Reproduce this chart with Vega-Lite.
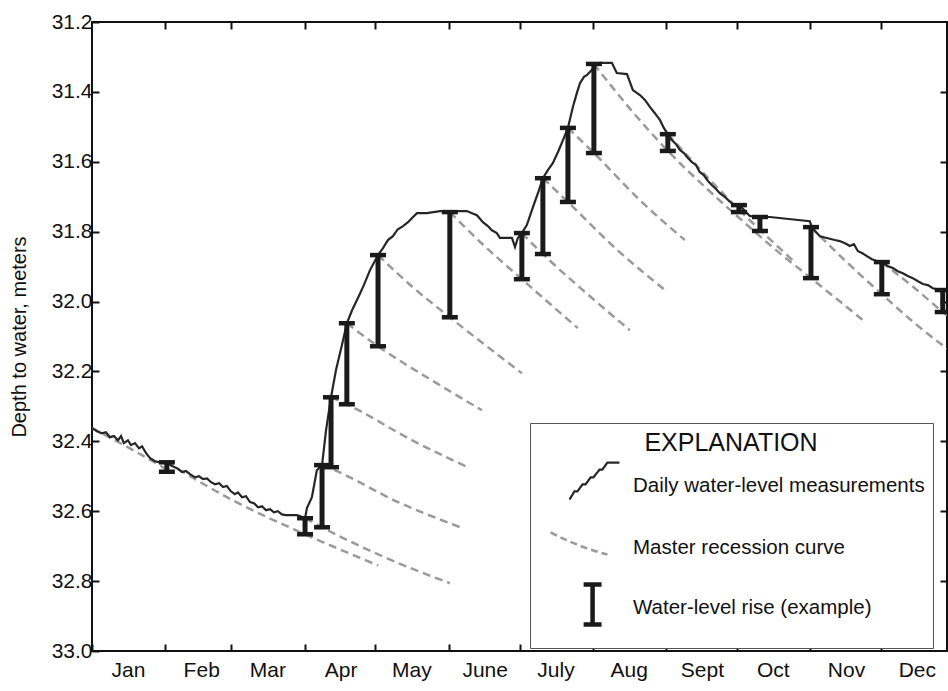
{
  "$schema": "https://vega.github.io/schema/vega-lite/v6.json",
  "width": 855,
  "height": 629,
  "autosize": {"type": "none"},
  "padding": {"left": 92, "top": 22, "right": 1, "bottom": 40},
  "background": "white",
  "config": {
    "font": "Liberation Sans",
    "view": {"stroke": "#111111", "strokeWidth": 2},
    "axis": {"labelColor": "#111111", "titleColor": "#111111", "tickColor": "#111111", "tickWidth": 2, "grid": false, "domain": false},
    "legend": {
      "orient": "none", "legendX": 438, "legendY": 401,
      "titleFontSize": 25, "titleFontWeight": "normal", "titleColor": "#111111",
      "titleAnchor": "middle", "titlePadding": 0,
      "labelFontSize": 20.5, "labelColor": "#111111", "labelLimit": 0, "labelOffset": 34,
      "symbolSize": 3136, "rowPadding": 0, "padding": 8,
      "strokeColor": "#555555", "fillColor": "white"
    }
  },
  "datasets": {
    "daily": [
      {"d":0,"v":32.362},{"d":2.1,"v":32.371},{"d":4.2,"v":32.377},{"d":5.9,"v":32.374},{"d":7.6,"v":32.388},{"d":9.3,"v":32.385},{"d":11.0,"v":32.397},{"d":12.3,"v":32.385},{"d":13.5,"v":32.405},{"d":15.2,"v":32.397},{"d":16.5,"v":32.411},{"d":18.2,"v":32.405},{"d":19.9,"v":32.420},{"d":21.2,"v":32.414},{"d":22.9,"v":32.434},{"d":24.6,"v":32.448},{"d":26.7,"v":32.457},{"d":28.8,"v":32.460},{"d":31.7,"v":32.460},{"d":33.9,"v":32.471},{"d":36.0,"v":32.477},{"d":38.1,"v":32.488},{"d":39.8,"v":32.485},{"d":41.5,"v":32.494},{"d":43.6,"v":32.503},{"d":45.3,"v":32.500},{"d":47.0,"v":32.508},{"d":48.7,"v":32.506},{"d":50.4,"v":32.517},{"d":52.1,"v":32.523},{"d":53.8,"v":32.520},{"d":55.5,"v":32.531},{"d":57.1,"v":32.528},{"d":58.8,"v":32.543},{"d":60.5,"v":32.551},{"d":61.8,"v":32.546},{"d":63.5,"v":32.560},{"d":65.2,"v":32.557},{"d":66.9,"v":32.574},{"d":68.6,"v":32.577},{"d":70.3,"v":32.589},{"d":72.0,"v":32.586},{"d":73.7,"v":32.597},{"d":75.4,"v":32.594},{"d":77.0,"v":32.603},{"d":78.7,"v":32.600},{"d":80.4,"v":32.609},{"d":82.1,"v":32.611},{"d":86.8,"v":32.611},{"d":89.3,"v":32.617},{"d":90.2,"v":32.620},{"d":91.0,"v":32.591},{"d":93.1,"v":32.560},{"d":95.2,"v":32.483},{"d":97.4,"v":32.468},{"d":99.1,"v":32.368},{"d":101.2,"v":32.274},{"d":103.3,"v":32.196},{"d":105.8,"v":32.125},{"d":107.9,"v":32.062},{"d":110.1,"v":32.025},{"d":112.6,"v":31.990},{"d":115.1,"v":31.953},{"d":117.7,"v":31.910},{"d":121.1,"v":31.867},{"d":123.2,"v":31.847},{"d":125.3,"v":31.824},{"d":127.4,"v":31.813},{"d":129.5,"v":31.793},{"d":131.7,"v":31.784},{"d":133.8,"v":31.773},{"d":135.5,"v":31.761},{"d":137.6,"v":31.747},{"d":141.8,"v":31.747},{"d":147.3,"v":31.741},{"d":158.7,"v":31.741},{"d":160.9,"v":31.747},{"d":163.0,"v":31.753},{"d":165.5,"v":31.773},{"d":167.6,"v":31.784},{"d":169.3,"v":31.796},{"d":171.4,"v":31.804},{"d":172.7,"v":31.818},{"d":177.8,"v":31.818},{"d":179.1,"v":31.844},{"d":180.3,"v":31.818},{"d":182.0,"v":31.804},{"d":184.1,"v":31.781},{"d":186.7,"v":31.730},{"d":188.8,"v":31.690},{"d":190.9,"v":31.647},{"d":193.0,"v":31.624},{"d":195.1,"v":31.604},{"d":197.3,"v":31.572},{"d":199.4,"v":31.538},{"d":201.5,"v":31.503},{"d":203.6,"v":31.443},{"d":205.3,"v":31.403},{"d":206.6,"v":31.375},{"d":208.3,"v":31.357},{"d":209.5,"v":31.352},{"d":211.7,"v":31.337},{"d":212.9,"v":31.323},{"d":215.0,"v":31.317},{"d":220.1,"v":31.317},{"d":222.2,"v":31.346},{"d":226.5,"v":31.349},{"d":229.0,"v":31.395},{"d":232.0,"v":31.409},{"d":234.1,"v":31.423},{"d":236.2,"v":31.443},{"d":238.3,"v":31.461},{"d":240.5,"v":31.481},{"d":242.1,"v":31.503},{"d":243.8,"v":31.521},{"d":245.5,"v":31.538},{"d":247.2,"v":31.549},{"d":248.9,"v":31.566},{"d":250.6,"v":31.575},{"d":252.3,"v":31.589},{"d":254.0,"v":31.601},{"d":255.7,"v":31.609},{"d":257.3,"v":31.629},{"d":259.0,"v":31.638},{"d":260.8,"v":31.655},{"d":262.5,"v":31.667},{"d":264.2,"v":31.678},{"d":265.8,"v":31.690},{"d":268.0,"v":31.701},{"d":269.7,"v":31.712},{"d":271.3,"v":31.721},{"d":273.9,"v":31.724},{"d":275.2,"v":31.732},{"d":276.9,"v":31.744},{"d":278.5,"v":31.755},{"d":281.1,"v":31.758},{"d":282.8,"v":31.758},{"d":287.0,"v":31.758},{"d":303.9,"v":31.770},{"d":304.8,"v":31.787},{"d":306.5,"v":31.801},{"d":308.2,"v":31.813},{"d":311.1,"v":31.818},{"d":314.5,"v":31.824},{"d":316.6,"v":31.827},{"d":318.8,"v":31.833},{"d":320.9,"v":31.841},{"d":322.6,"v":31.836},{"d":324.3,"v":31.856},{"d":326.0,"v":31.861},{"d":328.1,"v":31.870},{"d":330.2,"v":31.879},{"d":332.3,"v":31.884},{"d":334.4,"v":31.887},{"d":337.0,"v":31.899},{"d":339.1,"v":31.904},{"d":341.2,"v":31.913},{"d":343.3,"v":31.919},{"d":345.4,"v":31.927},{"d":347.5,"v":31.933},{"d":349.7,"v":31.942},{"d":351.8,"v":31.950},{"d":353.9,"v":31.953},{"d":356.0,"v":31.962},{"d":359.0,"v":31.967},{"d":361.9,"v":31.967}
    ],
    "rec": [
      {"c":"C0","d":0,"v":32.362},{"c":"C0","d":16,"v":32.42},{"c":"C0","d":34,"v":32.49},
      {"c":"C1","d":31.7,"v":32.460},{"c":"C1","d":60,"v":32.570},{"c":"C1","d":90.2,"v":32.666},{"c":"C1","d":121.1,"v":32.755},
      {"c":"C2","d":90.2,"v":32.620},{"c":"C2","d":97.4,"v":32.646},{"c":"C2","d":125,"v":32.735},{"c":"C2","d":151.5,"v":32.806},
      {"c":"C3","d":97.4,"v":32.468},{"c":"C3","d":101.2,"v":32.478},{"c":"C3","d":130,"v":32.575},{"c":"C3","d":157.1,"v":32.649},
      {"c":"C4","d":101.2,"v":32.274},{"c":"C4","d":107.9,"v":32.294},{"c":"C4","d":135,"v":32.395},{"c":"C4","d":160.0,"v":32.477},
      {"c":"C5","d":107.9,"v":32.062},{"c":"C5","d":121.1,"v":32.128},{"c":"C5","d":145,"v":32.230},{"c":"C5","d":165.1,"v":32.311},
      {"c":"C6","d":121.1,"v":31.867},{"c":"C6","d":136,"v":31.960},{"c":"C6","d":151.5,"v":32.045},{"c":"C6","d":182.0,"v":32.205},
      {"c":"C7","d":151.5,"v":31.744},{"c":"C7","d":166,"v":31.840},{"c":"C7","d":182.0,"v":31.936},{"c":"C7","d":205.7,"v":32.076},
      {"c":"C8","d":182.0,"v":31.804},{"c":"C8","d":190.9,"v":31.864},{"c":"C8","d":210,"v":31.980},{"c":"C8","d":227.7,"v":32.082},
      {"c":"C9","d":190.9,"v":31.647},{"c":"C9","d":201.5,"v":31.715},{"c":"C9","d":222,"v":31.850},{"c":"C9","d":242.6,"v":31.967},
      {"c":"C10","d":201.5,"v":31.503},{"c":"C10","d":212.5,"v":31.575},{"c":"C10","d":232,"v":31.710},{"c":"C10","d":251.0,"v":31.824},
      {"c":"C11","d":212.5,"v":31.320},{"c":"C11","d":228,"v":31.450},{"c":"C11","d":243.8,"v":31.569},{"c":"C11","d":260,"v":31.675},{"c":"C11","d":273.9,"v":31.760},{"c":"C11","d":290,"v":31.855},{"c":"C11","d":304.4,"v":31.933},{"c":"C11","d":326.4,"v":32.053},
      {"c":"C12","d":243.8,"v":31.521},{"c":"C12","d":260,"v":31.640},{"c":"C12","d":273.9,"v":31.737},{"c":"C12","d":282.8,"v":31.795},{"c":"C12","d":298,"v":31.890},
      {"c":"C14","d":304.4,"v":31.787},{"c":"C14","d":320,"v":31.890},{"c":"C14","d":334.4,"v":31.979},{"c":"C14","d":348,"v":32.060},{"c":"C14","d":362,"v":32.135},
      {"c":"C15","d":334.4,"v":31.887},{"c":"C15","d":348,"v":31.960},{"c":"C15","d":360.2,"v":32.030},{"c":"C15","d":362,"v":32.040}
    ],
    "rise": [
      {"d":31.7,"top":32.460,"bot":32.487},
      {"d":90.2,"top":32.620,"bot":32.666},
      {"d":97.4,"top":32.468,"bot":32.646},
      {"d":101.2,"top":32.274,"bot":32.474},
      {"d":107.9,"top":32.062,"bot":32.294},
      {"d":121.1,"top":31.867,"bot":32.128},
      {"d":151.5,"top":31.744,"bot":32.045},
      {"d":182.0,"top":31.804,"bot":31.936},
      {"d":190.9,"top":31.647,"bot":31.864},
      {"d":201.5,"top":31.503,"bot":31.715},
      {"d":212.5,"top":31.320,"bot":31.575},
      {"d":243.8,"top":31.521,"bot":31.569},
      {"d":273.9,"top":31.724,"bot":31.744},
      {"d":282.8,"top":31.758,"bot":31.798},
      {"d":304.4,"top":31.787,"bot":31.933},
      {"d":334.4,"top":31.887,"bot":31.979},
      {"d":360.2,"top":31.967,"bot":32.030}
    ],
    "legend": [
      {"kind":"Daily water-level measurements"},
      {"kind":"Master recession curve"},
      {"kind":"Water-level rise (example)"}
    ]
  },
  "resolve": {"axis": {"x": "independent", "y": "independent"}},
  "layer": [
    {
      "data": {"name": "rec"},
      "mark": {"type": "line", "color": "#9a9a9a", "strokeWidth": 2.5, "strokeDash": [8, 5], "interpolate": "monotone", "clip": true},
      "encoding": {
        "x": {"field": "d", "type": "quantitative", "scale": {"domain": [0, 362], "nice": false, "zero": false},
              "axis": {"orient": "top", "values": [31,59,90,120,151,181,212,243,273,304,334], "tickSize": -7, "labels": false, "title": null}},
        "y": {"field": "v", "type": "quantitative", "scale": {"domain": [31.2, 33.0], "reverse": true, "nice": false, "zero": false},
              "axis": {"orient": "right", "values": [31.4,31.6,31.8,32.0,32.2,32.4,32.6,32.8], "tickSize": -7, "labels": false, "title": null}},
        "detail": {"field": "c", "type": "nominal"}
      }
    },
    {
      "data": {"name": "daily"},
      "mark": {"type": "line", "color": "#262626", "strokeWidth": 2.2, "clip": true},
      "encoding": {
        "x": {"field": "d", "type": "quantitative", "scale": {"domain": [0, 362], "nice": false, "zero": false},
              "axis": {"orient": "bottom", "values": [0,31,59,90,120,151,181,212,243,273,304,334], "tickSize": -7,
                       "labelExpr": "['Jan','Feb','Mar','Apr','May','June','July','Aug','Sept','Oct','Nov','Dec'][indexof([0,31,59,90,120,151,181,212,243,273,304,334], datum.value)]",
                       "labelOffset": 36, "labelPadding": 15, "labelFontSize": 21, "labelOverlap": false, "labelFlush": false, "labelBound": false, "title": null}},
        "y": {"field": "v", "type": "quantitative", "scale": {"domain": [31.2, 33.0], "reverse": true, "nice": false, "zero": false},
              "axis": {"orient": "left", "values": [31.2,31.4,31.6,31.8,32.0,32.2,32.4,32.6,32.8,33.0], "format": ".1f", "tickSize": -7,
                       "labelPadding": 7, "labelFontSize": 21, "labelOverlap": false, "labelFlush": false, "labelBound": false,
                       "title": "Depth to water, meters", "titleFontSize": 20, "titleFontWeight": "normal", "titleX": -63}}
      }
    },
    {
      "data": {"name": "rise"},
      "mark": {"type": "rule", "color": "#1a1a1a", "strokeWidth": 5},
      "encoding": {
        "x": {"field": "d", "type": "quantitative", "axis": null},
        "y": {"field": "top", "type": "quantitative", "axis": null},
        "y2": {"field": "bot"}
      }
    },
    {
      "data": {"name": "rise"},
      "mark": {"type": "tick", "orient": "horizontal", "color": "#1a1a1a", "size": 16, "thickness": 4.5, "opacity": 1},
      "encoding": {
        "x": {"field": "d", "type": "quantitative", "axis": null},
        "y": {"field": "top", "type": "quantitative", "axis": null}
      }
    },
    {
      "data": {"name": "rise"},
      "mark": {"type": "tick", "orient": "horizontal", "color": "#1a1a1a", "size": 16, "thickness": 4.5, "opacity": 1},
      "encoding": {
        "x": {"field": "d", "type": "quantitative", "axis": null},
        "y": {"field": "bot", "type": "quantitative", "axis": null}
      }
    },
    {
      "data": {"name": "legend"},
      "mark": {"type": "point", "opacity": 1, "filled": false},
      "encoding": {
        "x": {"field": "d", "type": "quantitative", "axis": null},
        "y": {"field": "v", "type": "quantitative", "axis": null},
        "shape": {
          "field": "kind", "type": "nominal", "title": "EXPLANATION",
          "scale": {
            "domain": ["Daily water-level measurements", "Master recession curve", "Water-level rise (example)"],
            "range": [
              "M0,-1.0M0,1.0M0.04,0.5L0.21,0.21L0.32,0.21L0.5,-0.04L0.61,-0.04L0.79,-0.29L0.89,-0.29L1.11,-0.57L1.21,-0.57L1.39,-0.82L1.82,-0.82",
              "M0,-0.79M0,0.79M-0.64,-0.54Q0.4,0 1.39,0.25",
              "M0,-0.82M0,0.82M0.54,-0.82H1.18M0.86,-0.82V0.61M0.54,0.61H1.18"
            ]
          }
        },
        "stroke": {
          "field": "kind", "type": "nominal", "title": "EXPLANATION",
          "scale": {
            "domain": ["Daily water-level measurements", "Master recession curve", "Water-level rise (example)"],
            "range": ["#262626", "#9a9a9a", "#1a1a1a"]
          }
        },
        "strokeDash": {
          "field": "kind", "type": "nominal", "title": "EXPLANATION",
          "scale": {
            "domain": ["Daily water-level measurements", "Master recession curve", "Water-level rise (example)"],
            "range": [[1, 0], [7, 4], [1, 0]]
          }
        },
        "strokeWidth": {
          "field": "kind", "type": "nominal", "title": "EXPLANATION",
          "scale": {
            "type": "ordinal",
            "domain": ["Daily water-level measurements", "Master recession curve", "Water-level rise (example)"],
            "range": [2.2, 2.5, 4.5]
          }
        }
      }
    }
  ]
}
